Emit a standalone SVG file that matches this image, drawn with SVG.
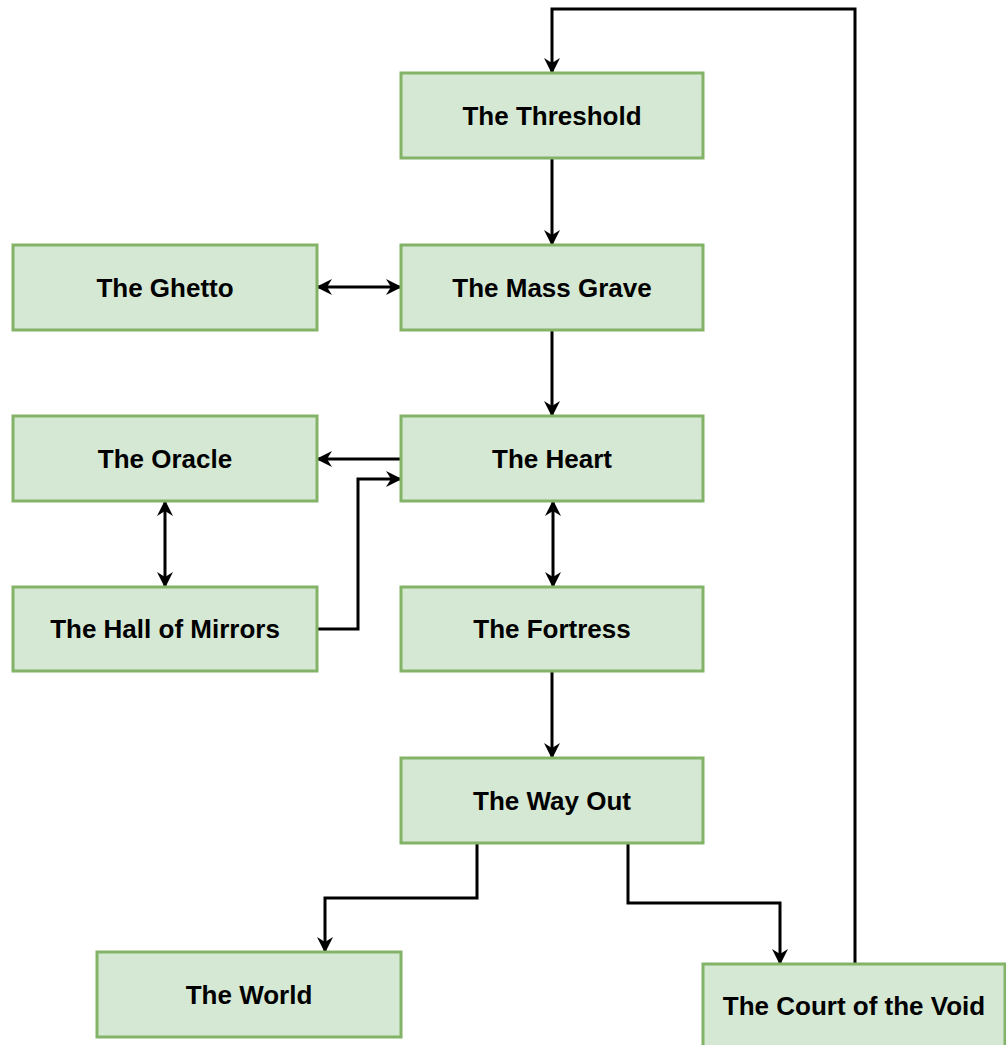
<svg xmlns="http://www.w3.org/2000/svg" width="1006" height="1045" viewBox="0 0 1006 1045">
<defs>
<style>
.box{fill:#d5e8d4;stroke:#82b366;stroke-width:3}
.lbl{font-family:"Liberation Sans",Arial,sans-serif;font-weight:bold;font-size:26px;fill:#000;text-anchor:middle;dominant-baseline:central}
.edge{fill:none;stroke:#000;stroke-width:3}
</style>
<marker id="arr" viewBox="0 0 16 16" markerWidth="16" markerHeight="16" refX="15" refY="8" orient="auto-start-reverse" markerUnits="userSpaceOnUse">
<path d="M0,0 L16,8 L0,16 L5,8 Z" fill="#000"/>
</marker>
</defs>
<rect width="1006" height="1045" fill="#fff"/>
<g id="connectors">
<path class="edge" d="M855,964 V9 H552 V73" marker-end="url(#arr)"/>
<path class="edge" d="M552,158 V245" marker-end="url(#arr)"/>
<path class="edge" d="M317,287 H401" marker-start="url(#arr)" marker-end="url(#arr)"/>
<path class="edge" d="M552,330 V416" marker-end="url(#arr)"/>
<path class="edge" d="M401,459 H317" marker-end="url(#arr)"/>
<path class="edge" d="M317,629 H358 V479 H401" marker-end="url(#arr)"/>
<path class="edge" d="M165,501 V587" marker-start="url(#arr)" marker-end="url(#arr)"/>
<path class="edge" d="M553,501 V587" marker-start="url(#arr)" marker-end="url(#arr)"/>
<path class="edge" d="M552,671 V758" marker-end="url(#arr)"/>
<path class="edge" d="M477,843 V898 H325 V952" marker-end="url(#arr)"/>
<path class="edge" d="M628,843 V903 H780 V964" marker-end="url(#arr)"/>
</g>
<g id="threshold"><rect class="box" x="401" y="73" width="302" height="85"/><text class="lbl" x="552" y="116">The Threshold</text></g>
<g id="ghetto"><rect class="box" x="13" y="245" width="304" height="85"/><text class="lbl" x="165" y="288">The Ghetto</text></g>
<g id="massgrave"><rect class="box" x="401" y="245" width="302" height="85"/><text class="lbl" x="552" y="288">The Mass Grave</text></g>
<g id="oracle"><rect class="box" x="13" y="416" width="304" height="85"/><text class="lbl" x="165" y="459">The Oracle</text></g>
<g id="heart"><rect class="box" x="401" y="416" width="302" height="85"/><text class="lbl" x="552" y="459">The Heart</text></g>
<g id="hallofmirrors"><rect class="box" x="13" y="587" width="304" height="84"/><text class="lbl" x="165" y="629">The Hall of Mirrors</text></g>
<g id="fortress"><rect class="box" x="401" y="587" width="302" height="84"/><text class="lbl" x="552" y="629">The Fortress</text></g>
<g id="wayout"><rect class="box" x="401" y="758" width="302" height="85"/><text class="lbl" x="552" y="801">The Way Out</text></g>
<g id="world"><rect class="box" x="97" y="952" width="304" height="85"/><text class="lbl" x="249" y="995">The World</text></g>
<g id="courtofthevoid"><rect class="box" x="703" y="964" width="302" height="86"/><text class="lbl" x="854" y="1006">The Court of the Void</text></g>
</svg>
